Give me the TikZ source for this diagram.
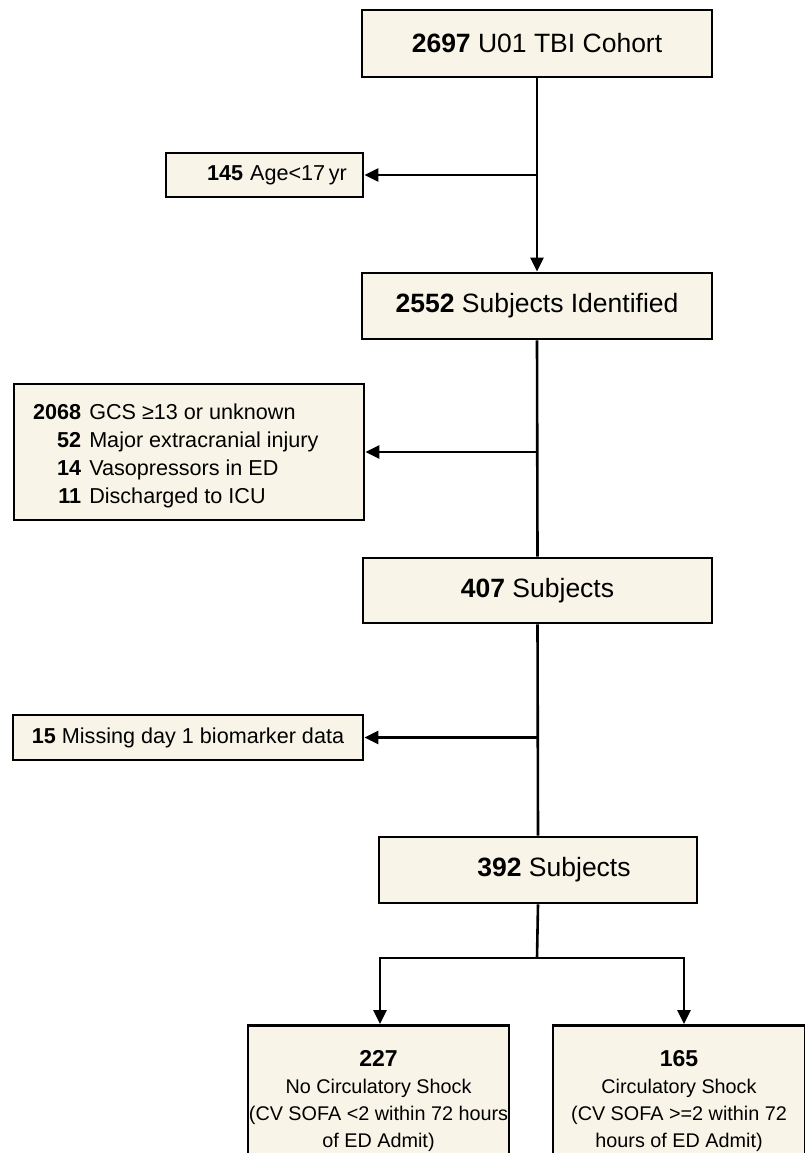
\documentclass[tikz,border=0pt]{standalone}
\usepackage{fontspec}
\setmainfont{Liberation Sans}
\usetikzlibrary{arrows.meta}
\definecolor{boxfill}{RGB}{248,245,232}
\tikzset{
  box/.style={draw=black, fill=boxfill, line width=2.9pt, rectangle, inner sep=0pt, align=center},
  bigtxt/.style={font=\fontsize{26.5}{30}\selectfont},
  smalltxt/.style={font=\fontsize{21.6}{28}\selectfont},
  outtxt/.style={font=\fontsize{19.8}{27}\selectfont, align=center},
  conn/.style={line width=2.6pt, draw=black},
  arr/.style={conn, -{Triangle[length=14pt,width=13pt]}}
}
\begin{document}
\begin{tikzpicture}[x=1pt,y=-1pt]
\useasboundingbox (0,0) rectangle (805,1153);
% main boxes
\node[box, bigtxt, minimum width=350pt, minimum height=67pt] (cohort) at (537,43.5) {\textbf{2697} U01 TBI Cohort};
\node[box, bigtxt, minimum width=350pt, minimum height=66pt] (ident) at (537,306) {\textbf{2552} Subjects Identified};
\node[box, bigtxt, minimum width=349pt, minimum height=65pt] (s407) at (537.5,590.5) {\textbf{407} Subjects};
\node[box, bigtxt, minimum width=318pt, minimum height=66pt] (s392) at (538,870) {};
\node[bigtxt, anchor=center, inner sep=0pt] (t392) at (554,870) {\textbf{392} Subjects};
% exclusion boxes
\node[box, smalltxt, minimum width=197pt, minimum height=44pt] (age) at (264.5,175) {};
\node[smalltxt, inner sep=0pt] (tage) at (277,175) {\textbf{145}\hspace{7pt}Age<17\,yr};
\node[box, smalltxt, minimum width=350pt, minimum height=136pt] (excl) at (189,452) {};
\node[smalltxt, inner sep=0pt, anchor=west] (texcl) at (33,456) {%
\begin{tabular}{@{}r@{\hspace{8pt}}l@{}}
\textbf{2068} & GCS ≥13 or unknown\\
\textbf{52} & Major extracranial injury\\
\textbf{14} & Vasopressors in ED\\
\textbf{11} & Discharged to ICU
\end{tabular}};
\node[box, smalltxt, minimum width=350pt, minimum height=45pt] (miss) at (188,737.5) {\textbf{15} Missing day 1 biomarker data};
% outcome boxes
\node[box, minimum width=261pt, minimum height=131pt, anchor=north] (noshock) at (378.5,1024) {};
\node[outtxt, inner sep=0pt, anchor=north] (tnoshock) at (378.5,1050) {{\fontsize{23}{27}\selectfont\textbf{227}}\\No Circulatory Shock\\(CV SOFA <2 within 72 hours\\of ED Admit)};
\node[box, minimum width=252pt, minimum height=131pt, anchor=north] (shock) at (679,1024) {};
\node[outtxt, inner sep=0pt, anchor=north] (tshock) at (679,1050) {{\fontsize{23}{27}\selectfont\textbf{165}}\\Circulatory Shock\\(CV SOFA >=2 within 72\\hours of ED Admit)};
% connectors
\draw[arr] (cohort.south) -- (ident.north);
\coordinate (j1) at (cohort.south |- age.east);
\draw[arr] (j1) -- (age.east);
\draw[conn] (ident.south) -- (s407.north);
\coordinate (j2) at (ident.south |- excl.east);
\draw[arr] (j2) -- (excl.east);
\draw[conn] (s407.south) -- (s392.north);
\coordinate (j3) at (s407.south |- miss.east);
\draw[arr] (j3) -- (miss.east);
\coordinate (b0) at (537,958);
\coordinate (bl) at (380,958);
\coordinate (br) at (684,958);
\draw[conn] (s392.south) -- (b0);
\draw[arr] (b0) -- (bl) -- (bl |- noshock.north);
\draw[arr] (b0) -- (br) -- (br |- shock.north);
\end{tikzpicture}
\end{document}
